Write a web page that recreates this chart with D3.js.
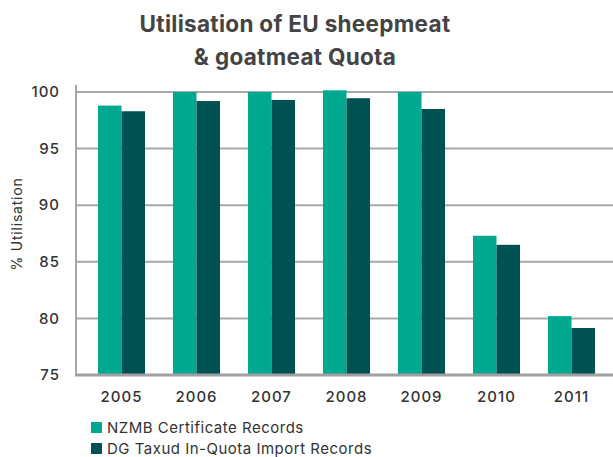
<!DOCTYPE html>
<html>
<head>
<meta charset="utf-8">
<script src="https://cdn.jsdelivr.net/npm/d3@7"></script>
<style>
  body { margin: 0; background: #fff; }
  text { font-family: Inter, "Open Sans", sans-serif; fill: #333; }
</style>
</head>
<body>
<div id="chart"></div>
<script>
const years = ["2005", "2006", "2007", "2008", "2009", "2010", "2011"];
const seriesNames = ["NZMB Certificate Records", "DG Taxud In-Quota Import Records"];
const nzmb = [98.8, 100.0, 100.0, 100.15, 100.0, 87.3, 80.2];
const dgTaxud = [98.3, 99.2, 99.3, 99.45, 98.5, 86.5, 79.15];
const yTicks = [75, 80, 85, 90, 95, 100];
const colors = ["#00a88f", "#005151"];

const width = 613, height = 457;
const margin = { top: 92, right: 0, bottom: 82, left: 76 };

const data = years.map((y, i) => ({ year: y, values: [nzmb[i], dgTaxud[i]] }));

const svg = d3.select("#chart")
  .append("svg")
  .attr("width", width)
  .attr("height", height);

const x = d3.scaleBand()
  .domain(years)
  .range([84, 609])
  .paddingInner(0.373)
  .paddingOuter(0.1865);

const xSub = d3.scaleBand()
  .domain([0, 1])
  .range([0, x.bandwidth()]);

const y = d3.scaleLinear()
  .domain([75, 100])
  .range([height - margin.bottom, margin.top]);

// gridlines
svg.append("g")
  .selectAll("line")
  .data(yTicks.filter(t => t > 75))
  .enter()
  .append("line")
  .attr("x1", margin.left)
  .attr("x2", width)
  .attr("y1", d => y(d))
  .attr("y2", d => y(d))
  .attr("stroke", "#a8a8a8")
  .attr("stroke-width", 2);

// bars
svg.append("g")
  .selectAll("g")
  .data(data)
  .enter()
  .append("g")
  .attr("transform", d => `translate(${x(d.year)},0)`)
  .selectAll("rect")
  .data(d => d.values)
  .enter()
  .append("rect")
  .attr("x", (d, i) => xSub(i))
  .attr("width", xSub.bandwidth())
  .attr("y", d => y(d))
  .attr("height", d => y(75) - y(d))
  .attr("fill", (d, i) => colors[i]);

// axes lines
svg.append("line")
  .attr("x1", margin.left).attr("x2", margin.left)
  .attr("y1", 85).attr("y2", y(75) + 1)
  .attr("stroke", "#a8a8a8").attr("stroke-width", 2);

svg.append("line")
  .attr("x1", margin.left - 1).attr("x2", width)
  .attr("y1", y(75)).attr("y2", y(75))
  .attr("stroke", "#a0a0a0").attr("stroke-width", 3);

// y tick labels
svg.append("g")
  .selectAll("text")
  .data(yTicks)
  .enter()
  .append("text")
  .attr("x", 60)
  .attr("y", d => y(d))
  .attr("dy", "0.35em")
  .attr("text-anchor", "end")
  .attr("font-size", 15)
  .attr("font-weight", 500)
  .attr("letter-spacing", 1)
  .text(d => d);

// x labels
svg.append("g")
  .selectAll("text")
  .data(years)
  .enter()
  .append("text")
  .attr("x", d => x(d) + x.bandwidth() / 2)
  .attr("y", 402)
  .attr("text-anchor", "middle")
  .attr("font-size", 15)
  .attr("font-weight", 500)
  .attr("letter-spacing", 1)
  .text(d => d);

// y axis title
svg.append("text")
  .attr("transform", "translate(22,224) rotate(-90)")
  .attr("text-anchor", "middle")
  .attr("font-size", 14)
  .attr("letter-spacing", 0.8)
  .text("% Utilisation");

// title
const title = svg.append("text")
  .attr("text-anchor", "middle")
  .attr("font-size", 22.5)
  .attr("font-weight", 700)
  .attr("letter-spacing", 0.3)
  .style("fill", "#444");
title.append("tspan").attr("x", 295).attr("y", 32).text("Utilisation of EU sheepmeat");
title.append("tspan").attr("x", 295).attr("y", 65).text("& goatmeat Quota");

// legend
const legend = svg.append("g")
  .selectAll("g")
  .data(seriesNames)
  .enter()
  .append("g")
  .attr("transform", (d, i) => `translate(91,${422 + i * 21})`);

legend.append("rect")
  .attr("width", 11)
  .attr("height", 11)
  .attr("fill", (d, i) => colors[i]);

legend.append("text")
  .attr("x", 16)
  .attr("y", 10.5)
  .attr("font-size", 15)
  .attr("letter-spacing", 0.5)
  .text(d => d);
</script>
</body>
</html>
